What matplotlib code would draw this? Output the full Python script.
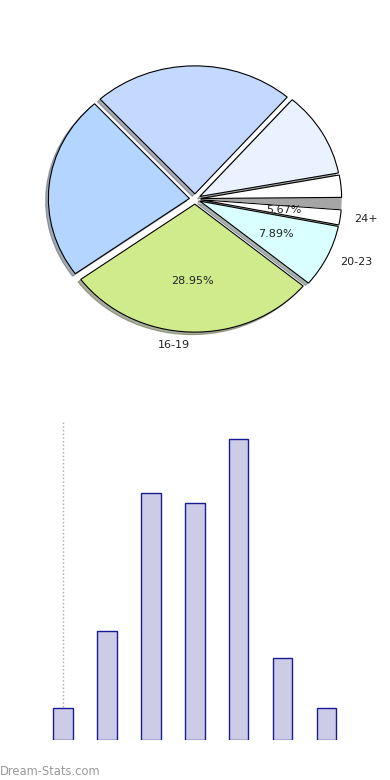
import matplotlib.pyplot as plt
import numpy as np

# Pie data (counterclockwise, starting from the 16-19 wedge)
pie_labels = ["16-19", "20-23", "24+", "", "", "", "", ""]
pie_values = [28.95, 7.89, 1.9, 1.4, 2.8, 10.7, 23.1, 23.26]
pie_pct = ["28.95%", "7.89%", "5.67%", "", "", "", "", ""]
pie_colors = ["#d0eb8c", "#d9ffff", "#ffffff", "#a6a6a6", "#ffffff",
              "#eaf2ff", "#c4d9ff", "#b3d5ff"]

# Bar data
bar_values = [3, 10.2, 23.1, 22.2, 28.2, 7.7, 3]

fig = plt.figure(figsize=(3.9, 7.8), dpi=100)

# Pie on top
ax1 = fig.add_axes([0, 380 / 780, 1, 400 / 780])
wedges, texts = ax1.pie(pie_values, labels=pie_labels, colors=pie_colors,
                        startangle=216, counterclock=True,
                        explode=[0.04] * len(pie_values),
                        shadow=dict(ox=-0.014, oy=-0.014, shade=0.6),
                        labeldistance=1.1,
                        wedgeprops=dict(edgecolor="black", linewidth=0.8),
                        textprops=dict(fontsize=8, color="#222222"))
# the gray strip has no outline
wedges[3].set_edgecolor("none")
for w, pct in zip(wedges, pie_pct):
    if pct:
        ang = np.deg2rad((w.theta1 + w.theta2) / 2)
        cx, cy = w.center
        ax1.text(cx + 0.6 * np.cos(ang), cy + 0.6 * np.sin(ang), pct,
                 ha="center", va="center", fontsize=8, color="#222222")
ax1.set_aspect("auto")
rx, ry = 141, 128
ax1.set_xlim(-195 / rx, 195 / rx)
ax1.set_ylim(-(400 - 199) / ry, 199 / ry)

# Bars below
ax2 = fig.add_axes([0, 40 / 780, 1, 320 / 780])
x = range(len(bar_values))
ax2.bar(x, bar_values, width=0.45, color="#cccce6",
        edgecolor="#1a1a99", linewidth=1.0, zorder=2)
ax2.axvline(0, color="#aaaaaa", linestyle=":", linewidth=1.0, zorder=1)
ax2.set_xlim(-63 / 43.9, (390 - 63) / 43.9)
ax2.set_ylim(0, 28.2 * 320 / 301)
for s in ax2.spines.values():
    s.set_visible(False)
ax2.set_xticks([])
ax2.set_yticks([])

fig.text(0.0, 5 / 780, "Dream-Stats.com", fontsize=8.3, color="#999999",
         ha="left", va="baseline")

fig.savefig("out.png", dpi=100)
